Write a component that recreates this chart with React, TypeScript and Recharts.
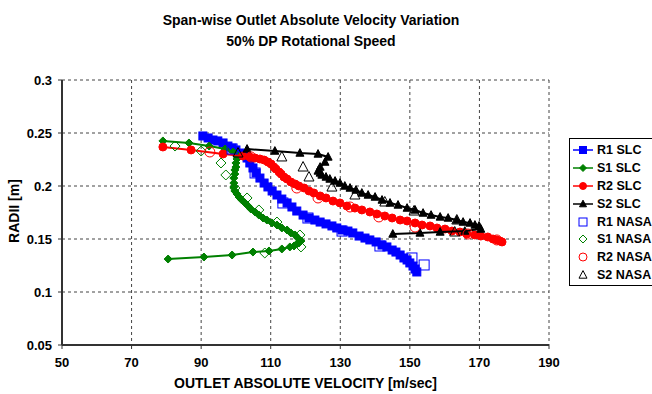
import { ScatterChart, Scatter, XAxis, YAxis, CartesianGrid } from 'recharts';

const FONT = '"Liberation Sans", Arial, sans-serif';

const xTicks = [50, 70, 90, 110, 130, 150, 170, 190];
const yTicks = [0.05, 0.1, 0.15, 0.2, 0.25, 0.3];

// SLC calculation
const r1SlcVel = [90.5, 92.0, 93.4, 94.8, 96.3, 97.7, 98.9, 100.0, 101.2, 102.3, 103.2, 104.0, 104.9, 105.8, 106.9, 108.1, 109.2, 110.4, 111.8, 113.2, 114.7, 116.1, 117.5, 119.3, 121.0, 122.7, 124.2, 125.9, 127.6, 129.0, 130.5, 132.2, 133.6, 135.4, 137.1, 138.5, 140.3, 142.0, 143.4, 144.9, 146.0, 147.2, 148.3, 149.2, 150.0, 150.9, 151.5, 152.0];
const r1SlcRad = [0.2472, 0.2453, 0.2434, 0.2425, 0.2406, 0.2377, 0.2358, 0.234, 0.2311, 0.2292, 0.2264, 0.2217, 0.217, 0.2123, 0.2075, 0.2028, 0.1991, 0.1953, 0.1915, 0.1877, 0.184, 0.1802, 0.1764, 0.1726, 0.1698, 0.1679, 0.166, 0.1642, 0.1623, 0.1604, 0.1585, 0.1575, 0.1557, 0.1528, 0.1509, 0.1491, 0.1472, 0.1443, 0.1425, 0.1396, 0.1377, 0.1349, 0.1321, 0.1302, 0.1274, 0.1245, 0.1217, 0.1189];

const s1SlcVel = [79.0, 86.5, 92.3, 96.9, 99.2, 100.0, 100.3, 100.3, 100.0, 100.0, 99.7, 99.7, 99.4, 99.4, 99.4, 99.7, 100.3, 100.9, 101.7, 102.6, 103.5, 104.3, 105.5, 106.6, 107.8, 108.9, 110.4, 111.8, 113.2, 114.7, 115.8, 117.0, 117.8, 118.7, 118.1, 117.5, 116.7, 115.5, 113.2, 109.5, 104.9, 98.9, 90.8, 80.5];
const s1SlcRad = [0.2425, 0.2406, 0.2377, 0.2349, 0.2321, 0.2302, 0.2283, 0.2255, 0.2217, 0.2179, 0.2151, 0.2113, 0.2075, 0.2028, 0.1991, 0.1953, 0.1925, 0.1896, 0.1868, 0.184, 0.1811, 0.1783, 0.1755, 0.1726, 0.1698, 0.1679, 0.1651, 0.1632, 0.1604, 0.1585, 0.1557, 0.1538, 0.1509, 0.1481, 0.1462, 0.1453, 0.1434, 0.1425, 0.1406, 0.1387, 0.1377, 0.1349, 0.133, 0.1311];

const r2SlcVel = [79.0, 87.1, 96.3, 102.0, 104.0, 105.5, 106.9, 108.1, 109.2, 110.1, 110.9, 111.5, 112.4, 113.0, 113.8, 114.7, 115.8, 117.0, 118.1, 119.6, 121.0, 122.4, 124.2, 125.9, 127.9, 129.9, 131.9, 134.2, 136.2, 138.5, 140.5, 142.8, 144.9, 147.2, 149.2, 151.5, 153.5, 155.8, 157.8, 160.1, 162.1, 164.4, 166.4, 168.7, 170.4, 172.4, 173.9, 175.0, 175.9, 176.5];
const r2SlcRad = [0.2368, 0.234, 0.2302, 0.2283, 0.2274, 0.2264, 0.2255, 0.2245, 0.2226, 0.2208, 0.2179, 0.216, 0.2132, 0.2113, 0.2085, 0.2066, 0.2038, 0.2019, 0.2, 0.1981, 0.1953, 0.1934, 0.1906, 0.1887, 0.1858, 0.184, 0.1811, 0.1792, 0.1774, 0.1755, 0.1736, 0.1717, 0.1698, 0.1679, 0.167, 0.1651, 0.1632, 0.1623, 0.1604, 0.1594, 0.1575, 0.1566, 0.1547, 0.1538, 0.1528, 0.1519, 0.15, 0.1491, 0.1481, 0.1472];

const s2SlcVel = [103.2, 111.2, 118.4, 123.6, 126.5, 125.6, 124.2, 123.6, 124.2, 124.7, 125.9, 127.0, 128.5, 129.9, 131.3, 132.8, 134.5, 136.2, 138.0, 140.0, 142.0, 144.3, 146.6, 149.2, 151.5, 153.8, 156.1, 158.7, 161.0, 163.5, 165.3, 167.3, 168.7, 169.9, 170.4, 165.8, 158.7, 152.9, 145.1];
const s2SlcRad = [0.2349, 0.233, 0.2311, 0.2302, 0.2274, 0.2226, 0.2179, 0.2142, 0.2123, 0.2104, 0.2085, 0.2066, 0.2047, 0.2028, 0.2, 0.1981, 0.1962, 0.1934, 0.1915, 0.1896, 0.1868, 0.184, 0.1821, 0.1792, 0.1774, 0.1745, 0.1726, 0.1708, 0.1698, 0.1679, 0.166, 0.1651, 0.1632, 0.1623, 0.1594, 0.1575, 0.1566, 0.1557, 0.1547];

// NASA measurements
const r1NasaVel = [98.9, 105.5, 113.5, 120.7, 130.5, 141.4, 150.6, 154.1];
const r1NasaRad = [0.2349, 0.2123, 0.184, 0.1698, 0.1575, 0.1434, 0.1321, 0.1255];

const s1NasaVel = [82.5, 90.0, 95.7, 97.1, 99.7, 103.2, 106.6, 111.8, 118.4, 118.7, 108.3];
const s1NasaRad = [0.2377, 0.233, 0.2217, 0.2104, 0.1981, 0.1887, 0.1774, 0.166, 0.1538, 0.1425, 0.1368];

const r2NasaVel = [92.5, 104.3, 117.5, 123.6, 132.8, 141.1, 151.5, 166.7, 175.0];
const r2NasaRad = [0.2321, 0.2274, 0.1981, 0.1887, 0.1802, 0.1708, 0.1613, 0.1547, 0.1491];

const s2NasaVel = [100.6, 113.2, 119.3, 121.0, 127.6, 134.2, 142.8, 151.2, 163.5, 162.9];
const s2NasaRad = [0.2311, 0.2274, 0.2179, 0.2085, 0.199, 0.1915, 0.1849, 0.1764, 0.1679, 0.1566];

const zip = (v: number[], r: number[]) => v.map((x, i) => ({ v: x, r: r[i] }));

type Kind = 'square' | 'diamond' | 'circle' | 'triangle';

function Mark({ kind, cx, cy, size, color, open }: { kind: Kind; cx: number; cy: number; size: number; color: string; open: boolean }) {
  const h = size / 2;
  const fill = open ? 'none' : color;
  if (kind === 'square') return <rect x={cx - h} y={cy - h} width={size} height={size} fill={fill} stroke={color} strokeWidth={1} />;
  if (kind === 'circle') return <circle cx={cx} cy={cy} r={h} fill={fill} stroke={color} strokeWidth={1} />;
  if (kind === 'diamond')
    return <polygon points={`${cx},${cy - h} ${cx + h},${cy} ${cx},${cy + h} ${cx - h},${cy}`} fill={fill} stroke={color} strokeWidth={1} />;
  return <polygon points={`${cx},${cy - h * 1.1} ${cx + h},${cy + h * 0.8} ${cx - h},${cy + h * 0.8}`} fill={fill} stroke={color} strokeWidth={1} />;
}

const series = [
  { name: 'R1 SLC', data: zip(r1SlcVel, r1SlcRad), kind: 'square' as Kind, color: '#0000FF', open: false, size: 8, line: true },
  { name: 'S1 SLC', data: zip(s1SlcVel, s1SlcRad), kind: 'diamond' as Kind, color: '#008000', open: false, size: 8, line: true },
  { name: 'R2 SLC', data: zip(r2SlcVel, r2SlcRad), kind: 'circle' as Kind, color: '#FF0000', open: false, size: 8, line: true },
  { name: 'S2 SLC', data: zip(s2SlcVel, s2SlcRad), kind: 'triangle' as Kind, color: '#000000', open: false, size: 8, line: true },
  { name: 'R1 NASA', data: zip(r1NasaVel, r1NasaRad), kind: 'square' as Kind, color: '#0000FF', open: true, size: 10, line: false },
  { name: 'S1 NASA', data: zip(s1NasaVel, s1NasaRad), kind: 'diamond' as Kind, color: '#008000', open: true, size: 10, line: false },
  { name: 'R2 NASA', data: zip(r2NasaVel, r2NasaRad), kind: 'circle' as Kind, color: '#FF0000', open: true, size: 10, line: false },
  { name: 'S2 NASA', data: zip(s2NasaVel, s2NasaRad), kind: 'triangle' as Kind, color: '#000000', open: true, size: 10, line: false },
];

const tickStyle = { fontSize: 13, fontWeight: 'bold', fill: '#000', fontFamily: FONT };

export default function App() {
  return (
    <div style={{ position: 'absolute', left: 0, top: 0, width: 652, height: 394, background: '#fff', fontFamily: FONT, overflow: 'hidden' }}>
      <div style={{ position: 'absolute', left: 0, top: 10, width: 622, textAlign: 'center', fontSize: 14, fontWeight: 'bold', lineHeight: '21px' }}>
        Span-wise Outlet Absolute Velocity Variation
        <br />
        50% DP Rotational Speed
      </div>
      <ScatterChart width={652} height={394} margin={{ top: 80, right: 103, bottom: 0, left: 0 }}>
        <CartesianGrid stroke="#444" strokeDasharray="3 3" />
        <XAxis
          type="number"
          dataKey="v"
          domain={[50, 190]}
          ticks={xTicks}
          height={49}
          tick={tickStyle}
          tickSize={4}
          tickMargin={9}
          axisLine={{ stroke: '#333', strokeWidth: 2 }}
          tickLine={{ stroke: '#333' }}
          allowDataOverflow
        />
        <YAxis
          type="number"
          dataKey="r"
          domain={[0.05, 0.3]}
          ticks={yTicks}
          width={62}
          tick={tickStyle}
          tickSize={4}
          tickMargin={6}
          axisLine={{ stroke: '#333', strokeWidth: 2 }}
          tickLine={{ stroke: '#333' }}
          allowDataOverflow
        />
        {series.map((s) => (
          <Scatter
            key={s.name}
            name={s.name}
            data={s.data}
            isAnimationActive={false}
            line={s.line ? { stroke: s.color, strokeWidth: 2 } : false}
            lineType="joint"
            shape={(p: any) => <Mark kind={s.kind} cx={p.cx} cy={p.cy} size={s.size} color={s.color} open={s.open} />}
          />
        ))}
      </ScatterChart>
      <div
        style={{
          position: 'absolute',
          left: 14,
          top: 211,
          transform: 'translate(-50%, -50%) rotate(-90deg)',
          fontSize: 14,
          fontWeight: 'bold',
          whiteSpace: 'nowrap',
        }}
      >
        RADII [m]
      </div>
      <div style={{ position: 'absolute', left: 62, top: 375, width: 487, textAlign: 'center', fontSize: 14, fontWeight: 'bold' }}>
        OUTLET ABSOLUTE VELOCITY [m/sec]
      </div>
      <div
        style={{
          position: 'absolute',
          left: 569,
          top: 138,
          width: 100,
          height: 148,
          border: '1px solid #000',
          background: '#fff',
          boxSizing: 'border-box',
          paddingTop: 2,
        }}
      >
        {series.map((s) => (
          <div key={s.name} style={{ display: 'flex', alignItems: 'center', height: 17.9, fontSize: 12.5, fontWeight: 'bold', whiteSpace: 'nowrap' }}>
            <svg width={22} height={14} style={{ marginLeft: 3, flexShrink: 0 }}>
              {s.line && <line x1={0} y1={7} x2={20} y2={7} stroke={s.color} strokeWidth={1.5} />}
              <Mark kind={s.kind} cx={10} cy={7} size={s.open ? 8 : 7} color={s.color} open={s.open} />
            </svg>
            <span style={{ marginLeft: 2 }}>{s.name}</span>
          </div>
        ))}
      </div>
    </div>
  );
}
